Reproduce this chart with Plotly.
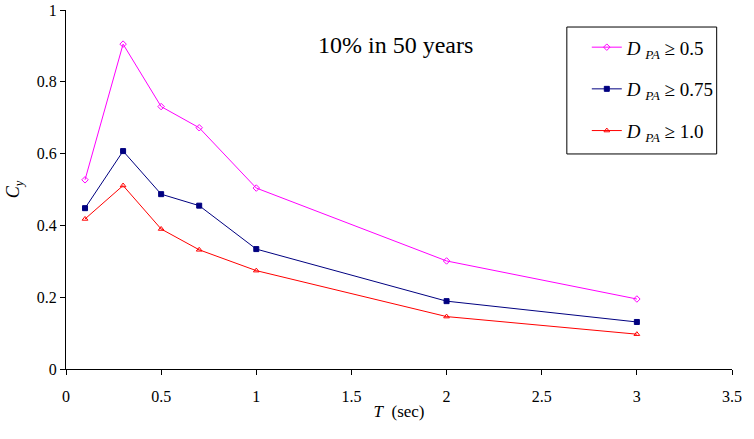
import plotly.graph_objects as go

T = [0.1, 0.3, 0.5, 0.7, 1.0, 2.0, 3.0]
cy_05 = [0.527, 0.905, 0.731, 0.672, 0.504, 0.301, 0.195]
cy_075 = [0.448, 0.607, 0.487, 0.455, 0.334, 0.189, 0.131]
cy_10 = [0.418, 0.511, 0.390, 0.332, 0.274, 0.146, 0.097]

names = ["<i>D</i> <sub><i>PA</i></sub> ≥ 0.5",
         "<i>D</i> <sub><i>PA</i></sub> ≥ 0.75",
         "<i>D</i> <sub><i>PA</i></sub> ≥ 1.0"]
colors = ["#FF00FF", "#000080", "#FF0000"]
symbols = ["diamond-open", "square", "triangle-up-open"]
series = [cy_05, cy_075, cy_10]

font_family = "Liberation Serif"

fig = go.Figure()
for i, (ys, nm, c, s) in enumerate(zip(series, names, colors, symbols)):
    fig.add_trace(go.Scatter(
        x=T, y=ys, name=nm, mode="lines+markers",
        line=dict(color=c, width=1),
        marker=dict(symbol=s, size=5, color=c, line=dict(color=c, width=1)),
        legendgroup=f"g{i}",
    ))

fig.update_layout(
    width=754, height=439,
    margin=dict(l=66, r=22, t=10, b=70),
    paper_bgcolor="white", plot_bgcolor="white",
    font=dict(family=font_family, size=16, color="black"),
    showlegend=True,
    legend=dict(
        x=0.782, y=0.949, xanchor="left", yanchor="top",
        borderwidth=0, bgcolor="rgba(0,0,0,0)",
        font=dict(size=19, family=font_family),
        tracegroupgap=14, itemwidth=30,
    ),
    shapes=[dict(
        type="rect", xref="paper", yref="paper",
        x0=0.752, x1=0.977, y0=0.599, y1=0.9526,
        line=dict(color="black", width=1), fillcolor="rgba(0,0,0,0)", layer="below",
    )],
    xaxis=dict(
        range=[0, 3.5], tickvals=[0, 0.5, 1, 1.5, 2, 2.5, 3, 3.5],
        ticktext=["0", "0.5", "1", "1.5", "2", "2.5", "3", "3.5"],
        showgrid=False, zeroline=False, showline=True, linecolor="black", linewidth=1,
        ticks="outside", ticklen=5, tickcolor="black", ticklabelstandoff=8,
        automargin=False,
        title=dict(text="<i>T</i>  (sec)", font=dict(size=17), standoff=0),
    ),
    yaxis=dict(
        range=[0, 1], tickvals=[0, 0.2, 0.4, 0.6, 0.8, 1],
        ticktext=["0", "0.2", "0.4", "0.6", "0.8", "1"],
        showgrid=False, zeroline=False, showline=True, linecolor="black", linewidth=1,
        ticks="outside", ticklen=5, tickcolor="black",
        automargin=False,
        title=dict(text="<i>C<sub>y</sub></i>", font=dict(size=18), standoff=12),
    ),
    annotations=[dict(
        text="10% in 50 years", x=0.495, y=0.9025, xref="paper", yref="paper",
        xanchor="center", yanchor="middle",
        showarrow=False, font=dict(size=24, family=font_family),
    )],
)

fig.write_html("out.html")
